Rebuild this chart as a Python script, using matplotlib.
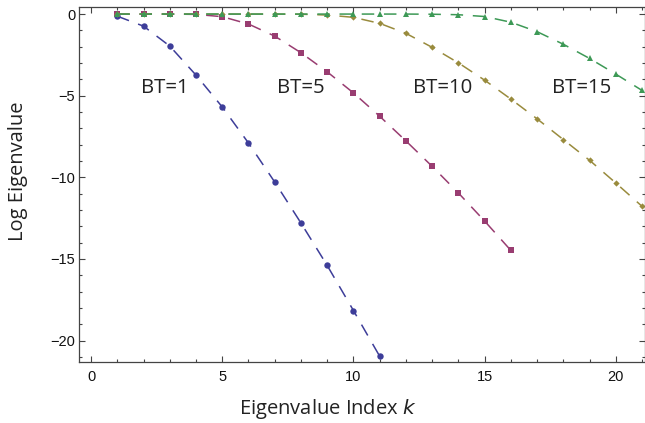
#!/usr/bin/env python3
# -*- coding: utf-8 -*-

"""
Log eigenvalues of the time-frequency concentration problem for several
time-bandwidth products, plotted against the eigenvalue index.
"""

import matplotlib
matplotlib.use('Agg')
import matplotlib.pyplot as plt
import numpy as np
from matplotlib.ticker import MultipleLocator, FuncFormatter

# Log eigenvalues for each time-bandwidth product, index k starting at 1.
bt1_log = [-0.13, -0.74, -1.96, -3.74, -5.69, -7.90, -10.29, -12.80, -15.40,
           -18.16, -20.96]
bt5_log = [0.0, 0.0, 0.0, -0.02, -0.16, -0.61, -1.35, -2.37, -3.54, -4.83,
           -6.26, -7.77, -9.33, -10.96, -12.68, -14.48]
bt10_log = [0.0, 0.0, 0.0, 0.0, 0.0, 0.0, 0.0, -0.01, -0.06, -0.20, -0.57,
            -1.18, -2.04, -2.99, -4.05, -5.21, -6.42, -7.69, -8.96, -10.35,
            -11.78]
bt15_log = [0.0, 0.0, 0.0, 0.0, 0.0, 0.0, 0.0, 0.0, 0.0, 0.0, 0.0, 0.0,
            -0.01, -0.04, -0.15, -0.50, -1.08, -1.85, -2.72, -3.68, -4.68]
series_labels = ['BT=1', 'BT=5', 'BT=10', 'BT=15']

# Default Mathematica plot colours and markers.
colors = [
    (0.24, 0.24, 0.6),
    (0.6, 0.24, 0.443),
    (0.6, 0.547, 0.24),
    (0.24, 0.6, 0.337),
]
markers = ['o', 's', 'D', '^']
marker_sizes = [4.6, 4.2, 3.2, 4.4]

# Where the BT labels sit, in data coordinates.
label_pos = [(2.82, -4.55), (8.0, -4.55), (13.39, -4.55), (18.70, -4.55)]

plt.rcParams['lines.scale_dashes'] = False

fig = plt.figure(figsize = (6.45, 4.23), dpi = 100)
ax = fig.add_axes([0.123, 0.145, 0.877, 0.839])

for vals, col, mk, ms in zip(
    [bt1_log, bt5_log, bt10_log, bt15_log], colors, markers, marker_sizes
):
    k = np.arange(1, len(vals) + 1)
    ax.plot(
        k, vals,
            color = col,
            linewidth = 1.1,
            dashes = (9.0, 7.0),
            marker = mk,
            markersize = ms,
            markeredgewidth = 0,
            clip_on = True
    )

for txt, (x, y) in zip(series_labels, label_pos):
    ax.text(
        x, y, txt,
            ha = 'center', va = 'center',
            fontsize = 14.7, color = '#222222',
            family = 'Open Sans'
    )

# Axis ranges.
ax.set_xlim(-0.446, 21.11)
ax.set_ylim(-21.29, 0.447)

# Frame ticks: inward, on all four sides, labels only bottom and left.
ax.xaxis.set_major_locator(MultipleLocator(5))
ax.xaxis.set_minor_locator(MultipleLocator(1))
ax.yaxis.set_major_locator(MultipleLocator(5))
ax.yaxis.set_minor_locator(MultipleLocator(1))
ax.tick_params(which = 'both', direction = 'in', top = True, right = True,
               color = '#444444', width = 0.8)
ax.tick_params(which = 'major', length = 4.0)
ax.tick_params(which = 'minor', length = 2.2)
ax.tick_params(axis = 'x', which = 'major', pad = 6, labelsize = 10.5)
ax.tick_params(axis = 'y', which = 'major', pad = 3, labelsize = 10.5)

fmt = FuncFormatter(lambda v, p: ('\u2212' + '%d' % -v) if v < 0 else '%d' % v)
ax.yaxis.set_major_formatter(fmt)
for lab in ax.get_xticklabels() + ax.get_yticklabels():
    lab.set_family('Liberation Sans')
    lab.set_color('#111111')

for sp in ax.spines.values():
    sp.set_color('#444444')
    sp.set_linewidth(0.9)

ax.set_xlabel('Eigenvalue Index $\\mathit{k}$', fontsize = 14.5,
              family = 'Open Sans', color = '#222222', va = 'center')
ax.set_ylabel('Log Eigenvalue', fontsize = 14.5,
              family = 'Open Sans', color = '#222222', va = 'center')
ax.xaxis.set_label_coords(0.439, -0.133)
ax.yaxis.set_label_coords(-0.108, 0.537)

fig.savefig('out.png', dpi = 100)
